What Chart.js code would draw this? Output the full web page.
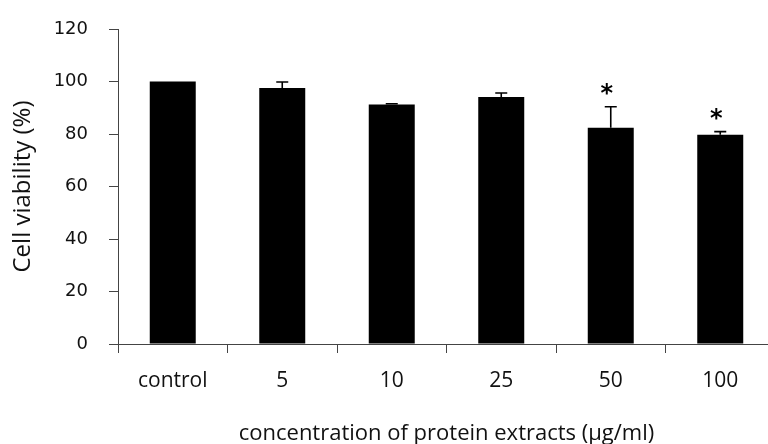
<!DOCTYPE html>
<html>
<head>
<meta charset="utf-8">
<script src="https://cdn.jsdelivr.net/npm/chart.js@4/dist/chart.umd.min.js"></script>
<style>
  html, body { margin: 0; padding: 0; background: #fff; overflow: hidden; }
  #wrap { position: relative; width: 790px; height: 444px; }
</style>
</head>
<body>
<div id="wrap"><canvas id="chart"></canvas></div>
<script>
// Cell viability after treatment with protein extracts (mean + SD)
const categories = ['control', '5', '10', '25', '50', '100'];
const viability = [100, 97.5, 91.2, 94.1, 82.4, 79.7];
const sdUpper = [0, 2.3, 0.3, 1.5, 8.0, 1.2];
const significance = ['', '', '', '', '*', '*'];
const yTicks = [0, 20, 40, 60, 80, 100, 120];

const axisColor = '#444';

// Upward error bars with caps, plus significance marks above them
const errorBarPlugin = {
  id: 'errorBars',
  afterDatasetsDraw(chart) {
    const ctx = chart.ctx;
    const yScale = chart.scales.y;
    const meta = chart.getDatasetMeta(0);
    ctx.save();
    meta.data.forEach((bar, i) => {
      const err = sdUpper[i];
      const topVal = viability[i] + err;
      const yTop = yScale.getPixelForValue(topVal);
      if (err > 0) {
        ctx.strokeStyle = '#000';
        ctx.lineWidth = 1.6;
        ctx.beginPath();
        ctx.moveTo(bar.x, bar.y);
        ctx.lineTo(bar.x, yTop);
        ctx.moveTo(bar.x - 6, yTop);
        ctx.lineTo(bar.x + 6, yTop);
        ctx.stroke();
      }
      if (significance[i]) {
        ctx.fillStyle = '#000';
        ctx.font = 'bold 24px "DejaVu Sans"';
        ctx.textAlign = 'center';
        ctx.textBaseline = 'alphabetic';
        ctx.fillText(significance[i], bar.x - 4, yTop - 6);
      }
    });
    ctx.restore();
  }
};

new Chart(document.getElementById('chart'), {
  type: 'bar',
  data: {
    labels: categories,
    datasets: [{
      data: viability,
      backgroundColor: '#000',
      borderWidth: 0,
      categoryPercentage: 1.0,
      barPercentage: 0.42
    }]
  },
  options: {
    responsive: true,
    maintainAspectRatio: false,
    animation: false,
    devicePixelRatio: 1,
    layout: { padding: { top: 29, right: 15, left: 0, bottom: 0 } },
    plugins: {
      legend: { display: false },
      tooltip: { enabled: false }
    },
    scales: {
      x: {
        afterFit(scale) {
          scale.height = 100;
          scale.paddingLeft = 0;
          scale.paddingRight = 0;
        },
        grid: {
          display: true,
          drawOnChartArea: false,
          drawTicks: true,
          tickLength: 9,
          color: axisColor,
          lineWidth: 1,
          offset: true
        },
        border: { display: true, color: axisColor, width: 1 },
        ticks: {
          color: '#111',
          padding: 15,
          font: { family: '"Open Sans"', size: 21 }
        },
        title: {
          display: true,
          text: 'concentration of protein extracts (µg/ml)',
          color: '#111',
          font: { family: '"Open Sans"', size: 22 },
          padding: { top: 0, bottom: -3 }
        }
      },
      y: {
        min: 0,
        max: 120,
        afterFit(scale) {
          scale.width = 118;
          scale.paddingTop = 0;
          scale.paddingBottom = 0;
        },
        afterBuildTicks(scale) { scale.ticks = yTicks.map(v => ({ value: v })); },
        grid: {
          display: true,
          drawOnChartArea: false,
          drawTicks: true,
          tickLength: 9,
          color: axisColor,
          lineWidth: 1
        },
        border: { display: true, color: axisColor, width: 1 },
        ticks: {
          color: '#111',
          padding: 21,
          font: { family: '"DejaVu Sans"', size: 18 }
        },
        title: {
          display: true,
          text: 'Cell viability (%)',
          color: '#111',
          font: { family: '"Open Sans"', size: 24 },
          padding: { top: 9, bottom: 0 }
        }
      }
    }
  },
  plugins: [errorBarPlugin]
});
</script>
</body>
</html>
